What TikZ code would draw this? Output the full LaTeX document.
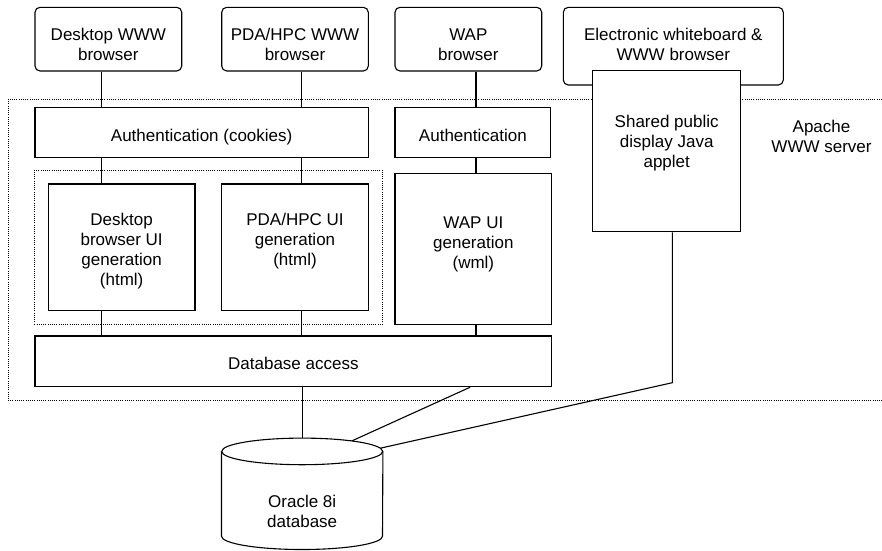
\documentclass[tikz,border=0pt]{standalone}
\usepackage{fontspec}
\setmainfont{Liberation Sans}
\usepackage{tikz}
\usetikzlibrary{positioning, fit}
\tikzstyle{line}    = [line width=1.1pt]
\tikzstyle{block}   = [rectangle, draw, line width=1.1pt, fill=white, inner sep=0pt]
\tikzstyle{client}  = [block, rounded corners=5pt]
\tikzstyle{border}  = [line width=1pt, dash pattern=on 1pt off 1.2pt]
\tikzset{every node/.style={align=center, font=\fontsize{17pt}{20pt}\selectfont}}

\begin{document}
\begin{tikzpicture}[x=1pt, y=1pt]
    \useasboundingbox (0,0) rectangle (882,-550);

    % Apache server boundary (open at the right)
    \draw [border] (882,-99.3) -- (8.3,-99.3) -- (8.3,-400.7) -- (882,-400.7);
    \node (apache) at (821.5,-152.7) [anchor=base] {Apache\\WWW server};

    % clients
    \node (dwb)   at (108.35,-39.15) [client, minimum width=146.7pt, text height=53.4pt, text depth=10.3pt]
          {Desktop WWW\\browser};
    \node (pwb)   at (295,-39.15)    [client, minimum width=146.6pt, text height=53.4pt, text depth=10.3pt]
          {PDA/HPC WWW\\browser};
    \node (wwb)   at (468.35,-39.15) [client, minimum width=146.7pt, text height=53.4pt, text depth=10.3pt]
          {WAP\\browser};
    \node (ewb)   at (673.3,-46.15)  [client, minimum width=220pt, text height=53.4pt, text depth=24.3pt]
          {Electronic whiteboard \&\\WWW browser};

    % server side
    \node (auth1) at (201.65,-132.7) [block, minimum width=333.3pt, text height=34pt, text depth=16pt]
          {Authentication (cookies)};
    \node (auth2) at (472.85,-132.7) [block, minimum width=155.7pt, text height=34pt, text depth=16pt]
          {Authentication};
    \node (app)   at (666.7,-151.2)  [block, minimum width=148pt, text height=97pt, text depth=64pt]
          {Shared public\\display Java\\applet};
    \node (dui)   at (121.65,-247.35) [block, minimum width=146.7pt, text height=101.5pt, text depth=25.2pt]
          {Desktop\\browser UI\\generation\\(html)};
    \node (pui)   at (295,-247.35)   [block, minimum width=146.6pt, text height=81.5pt, text depth=45.2pt]
          {PDA/HPC UI\\generation\\(html)};
    \node (wui)   at (473.35,-248.8) [block, minimum width=156.7pt, text height=95pt, text depth=56pt]
          {WAP UI\\generation\\(wml)};
    \node (uigen) [border, draw, fit=(dui) (pui), inner sep=13.3pt] {};
    \node (dba)   at (293.35,-361.35) [block, minimum width=516.7pt, text height=33pt, text depth=17.7pt]
          {Database access};

    % database
    \node (ora)   at (302.2,-493.8) [minimum width=161pt, inner sep=0pt, text height=88.7pt, text depth=22.3pt]
          {Oracle 8i\\database};
    \coordinate (ocen) at ([yshift=-13.3pt]ora.north);
    \draw [line] ([yshift=-13.3pt]ora.north west) -- ([yshift=13.3pt]ora.south west)
          arc [start angle=180, end angle=360, x radius=80.5pt, y radius=13.3pt]
          -- ([yshift=-13.3pt]ora.north east);
    \draw [line] (ocen) ellipse [x radius=80.5pt, y radius=13.3pt];

    \coordinate (laneA) at (101.7,0);
    \coordinate (laneB) at (301.7,0);
    \coordinate (laneC) at (476,0);
    \coordinate (dbout) at ([xshift=176.7pt]dba.south);
    \coordinate (bend)  at (672.3,-382.7);

    \draw [line] (dwb.south -| laneA)   -- (auth1.north -| laneA);
    \draw [line] (auth1.south -| laneA) -- (dui.north -| laneA);
    \draw [line] (dui.south -| laneA)   -- (dba.north -| laneA);
    \draw [line] (pwb.south -| laneB)   -- (auth1.north -| laneB);
    \draw [line] (auth1.south -| laneB) -- (pui.north -| laneB);
    \draw [line] (pui.south -| laneB)   -- (dba.north -| laneB);
    \draw [line] (wwb.south -| laneC)   -- (auth2.north -| laneC);
    \draw [line] (auth2.south -| laneC) -- (wui.north -| laneC);
    \draw [line] (wui.south -| laneC)   -- (dba.north -| laneC);
    \draw [line] (dba.south -| ora.north) -- (ora.north);
    \draw [line] (dbout) -- ([shift={(52:80.5pt and 13.3pt)}]ocen);
    \draw [line] (app.south -| bend) -- (bend) -- ([shift={(14:80.5pt and 13.3pt)}]ocen);
\end{tikzpicture}
\end{document}
